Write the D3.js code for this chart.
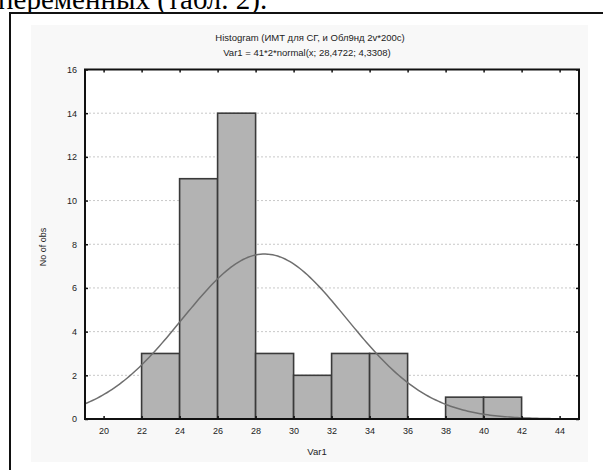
<!DOCTYPE html>
<html>
<head>
<meta charset="utf-8">
<script src="https://cdn.jsdelivr.net/npm/d3@7"></script>
<style>
  body { margin: 0; background: #fff; }
  svg { display: block; }
  text { font-family: "Liberation Sans", Arial, sans-serif; fill: #222; }
</style>
</head>
<body>
<script>
var width = 603,
    height = 470;

// bins of Var1 (width 2) and counts
var binStarts = [22, 24, 26, 28, 30, 32, 34, 36, 38, 40];
var counts    = [3, 11, 14, 3, 2, 3, 3, 0, 1, 1];
var xTicks = [20, 22, 24, 26, 28, 30, 32, 34, 36, 38, 40, 42, 44];
var yTicks = [0, 2, 4, 6, 8, 10, 12, 14, 16];
// fitted curve: Var1 = 41*2*normal(x; 28,4722; 4,3308)
var fitN = 41, fitBin = 2, fitMean = 28.4722, fitSd = 4.3308;

var svg = d3.select("body").append("svg")
    .attr("width", width)
    .attr("height", height);

// page text above the figure (cut off by the crop)
svg.append("text")
    .attr("x", -2)
    .attr("y", 9)
    .style("font-family", "'Liberation Serif', 'Times New Roman', serif")
    .style("font-size", "29px")
    .style("fill", "#000")
    .text("переменных (табл. 2).");

// outer figure box
svg.append("rect")
    .attr("x", 10)
    .attr("y", 13)
    .attr("width", 620)
    .attr("height", 480)
    .attr("fill", "#fff")
    .attr("stroke", "#111")
    .attr("stroke-width", 2);

// statistica grey panel
svg.append("rect")
    .attr("x", 31)
    .attr("y", 25)
    .attr("width", 557)
    .attr("height", 437)
    .attr("fill", "#f8f8f8");

var pLeft = 85, pRight = 579, pTop = 69.5, pBottom = 419;

var x = d3.scaleLinear().domain([20, 44]).range([103.6, 559.6]);
var y = d3.scaleLinear().domain([0, 16]).range([pBottom, pTop]);

svg.append("rect")
    .attr("x", pLeft)
    .attr("y", pTop)
    .attr("width", pRight - pLeft)
    .attr("height", pBottom - pTop)
    .attr("fill", "#fff");

// dotted grid
svg.append("g").selectAll("line")
    .data(yTicks.slice(1, -1))
  .enter().append("line")
    .attr("x1", pLeft)
    .attr("x2", pRight)
    .attr("y1", function(d) { return y(d); })
    .attr("y2", function(d) { return y(d); })
    .attr("stroke", "#c8c8c8")
    .attr("stroke-width", 1)
    .attr("stroke-dasharray", "2,2");

// bars
svg.append("g").selectAll("rect")
    .data(binStarts.map(function(b, i) { return {x0: b, n: counts[i]}; }).filter(function(d) { return d.n > 0; }))
  .enter().append("rect")
    .attr("x", function(d) { return x(d.x0); })
    .attr("y", function(d) { return y(d.n); })
    .attr("width", function(d) { return x(d.x0 + 2) - x(d.x0); })
    .attr("height", function(d) { return y(0) - y(d.n); })
    .attr("fill", "#b3b3b3")
    .attr("stroke", "#3a3a3a")
    .attr("stroke-width", 1.6);

// normal fit curve
var xd = x.invert(pLeft), xe = x.invert(pRight);
var pts = d3.range(0, 201).map(function(i) {
  var v = xd + (xe - xd) * i / 200;
  var z = (v - fitMean) / fitSd;
  return [v, fitN * fitBin * Math.exp(-z * z / 2) / (fitSd * Math.sqrt(2 * Math.PI))];
});
svg.append("path")
    .datum(pts)
    .attr("fill", "none")
    .attr("stroke", "#6e6e6e")
    .attr("stroke-width", 1.5)
    .attr("d", d3.line()
        .x(function(d) { return x(d[0]); })
        .y(function(d) { return y(d[1]); }));

// axes (ticks inside, like statistica)
svg.append("g")
    .attr("transform", "translate(0," + pBottom + ")")
    .call(d3.axisBottom(x).tickValues(xTicks).tickSize(-3).tickPadding(9));
svg.append("g")
    .attr("transform", "translate(" + pLeft + ",0)")
    .call(d3.axisLeft(y).tickValues(yTicks).tickSize(-3).tickPadding(8));
svg.append("g")
    .attr("transform", "translate(0," + pTop + ")")
    .call(d3.axisTop(x).tickValues(xTicks).tickSize(-3).tickFormat(""));
svg.append("g")
    .attr("transform", "translate(" + pRight + ",0)")
    .call(d3.axisRight(y).tickValues(yTicks).tickSize(-3).tickFormat(""));

svg.selectAll(".domain").remove();
svg.selectAll(".tick line").attr("stroke", "#111").attr("stroke-width", 1.5);
svg.selectAll(".tick text").style("font-size", "9px").style("fill", "#222");

// frame
svg.append("rect")
    .attr("x", pLeft)
    .attr("y", pTop)
    .attr("width", pRight - pLeft)
    .attr("height", pBottom - pTop)
    .attr("fill", "none")
    .attr("stroke", "#111")
    .attr("stroke-width", 2);

// titles
svg.append("text")
    .attr("x", 310)
    .attr("y", 41)
    .attr("text-anchor", "middle")
    .style("font-size", "9.5px")
    .text("Histogram (ИМТ для СГ, и Обл9нд 2v*200c)");
svg.append("text")
    .attr("x", 307)
    .attr("y", 56)
    .attr("text-anchor", "middle")
    .style("font-size", "9.5px")
    .text("Var1 = 41*2*normal(x; 28,4722; 4,3308)");

svg.append("text")
    .attr("x", 317)
    .attr("y", 455)
    .attr("text-anchor", "middle")
    .style("font-size", "9.5px")
    .text("Var1");

svg.append("text")
    .attr("transform", "translate(46,247) rotate(-90)")
    .attr("text-anchor", "middle")
    .style("font-size", "9px")
    .text("No of obs");
</script>
</body>
</html>
